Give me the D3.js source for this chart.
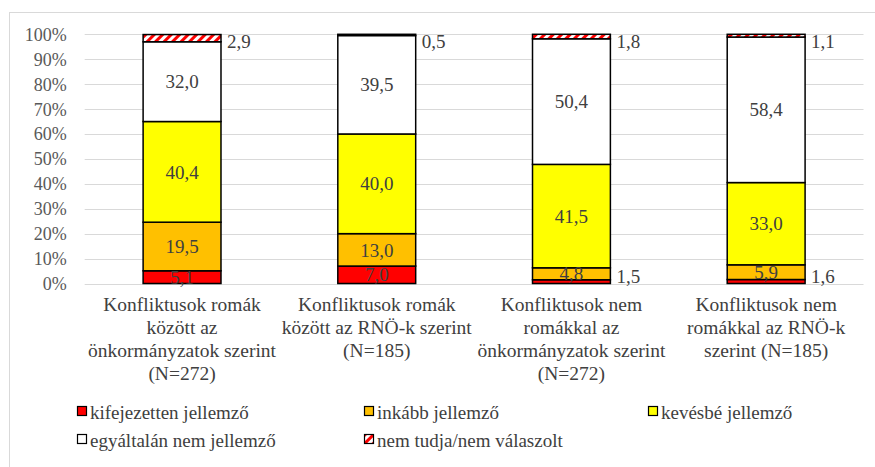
<!DOCTYPE html>
<html><head><meta charset="utf-8">
<script src="https://cdn.jsdelivr.net/npm/d3@7"></script>
</head><body style="margin:0">
<svg id="c" width="875" height="467"></svg>
<script>
const categories = [
  ["Konfliktusok romák","között az","önkormányzatok szerint","(N=272)"],
  ["Konfliktusok romák","között az RNÖ-k szerint","(N=185)"],
  ["Konfliktusok nem","romákkal az","önkormányzatok szerint","(N=272)"],
  ["Konfliktusok nem","romákkal az RNÖ-k","szerint (N=185)"]
];
const seriesNames = ["kifejezetten jellemző","inkább jellemző","kevésbé jellemző","egyáltalán nem jellemző","nem tudja/nem válaszolt"];
const kifejezetten = [5.1, 7.0, 1.5, 1.6];
const inkabb = [19.5, 13.0, 4.8, 5.9];
const kevesbe = [40.4, 40.0, 41.5, 33.0];
const egyaltalan = [32.0, 39.5, 50.4, 58.4];
const nemtudja = [2.9, 0.5, 1.8, 1.1];
const yTicks = [0,10,20,30,40,50,60,70,80,90,100];
const colors = ["#ff0000","#ffc000","#ffff00","#ffffff","url(#hatch)"];

const FONT = "'Liberation Serif'";
const seriesVals = [kifejezetten, inkabb, kevesbe, egyaltalan, nemtudja];
const svg = d3.select("#c");
const defs = svg.append("defs");
const pat = defs.append("pattern").attr("id","hatch").attr("patternUnits","userSpaceOnUse")
  .attr("width",6).attr("height",6).attr("patternTransform","rotate(45)");
pat.append("rect").attr("width",6).attr("height",6).attr("fill","#fff");
pat.append("rect").attr("width",3).attr("height",6).attr("fill","#ff0000");

svg.append("rect").attr("x",9.5).attr("y",12.5).attr("width",900).attr("height",500)
  .attr("fill","none").attr("stroke","#d9d9d9");

const x = d3.scaleBand().domain(d3.range(categories.length)).range([84.7,863.5]).paddingInner(0.6).paddingOuter(0.3);
const y = d3.scaleLinear().domain([0,100]).range([283.5,34.3]);

svg.append("g").selectAll("line").data(yTicks).join("line")
  .attr("x1",84.7).attr("x2",863.5).attr("y1",d=>Math.round(y(d))+0.5).attr("y2",d=>Math.round(y(d))+0.5)
  .attr("stroke","#d9d9d9").attr("stroke-width",1);

const yAxis = svg.append("g").attr("transform","translate(84.7,0)")
  .call(d3.axisLeft(y).tickValues(yTicks).tickFormat(d=>d+"%").tickSize(0).tickPadding(18));
yAxis.select(".domain").remove();
yAxis.attr("font-family",null).attr("font-size",null);
yAxis.selectAll("text").style("font-family",FONT).style("font-size","18px").attr("fill","#595959").attr("dy","0.33em");

const stack = d3.stack().keys(d3.range(5)).value((d,k)=>seriesVals[k][d])(d3.range(categories.length));
const fmt = v => v.toFixed(1).replace(".",",");

stack.forEach((layer,k)=>{
  svg.append("g").selectAll("rect").data(layer).join("rect")
    .attr("x",(d,i)=>x(i)).attr("width",x.bandwidth())
    .attr("y",d=>y(d[1])).attr("height",d=>y(d[0])-y(d[1]))
    .attr("fill",colors[k]).attr("stroke","#000").attr("stroke-width",1.5);
});
stack.forEach((layer,k)=>{
  layer.forEach((d,i)=>{
    const v = seriesVals[k][i];
    let tx, ty, anchor;
    if (v >= 4) { tx = x(i)+x.bandwidth()/2; ty = (y(d[0])+y(d[1]))/2; anchor="middle"; }
    else if (k===4) { tx = x(i)+x.bandwidth()+6; ty = y(d[1])+7; anchor="start"; }
    else { tx = x(i)+x.bandwidth()+6; ty = y(d[0])-7; anchor="start"; }
    svg.append("text").attr("x",tx).attr("y",ty).attr("dy","0.35em").attr("text-anchor",anchor)
      .style("font-family",FONT).style("font-size","19px").attr("fill","#404040").text(fmt(v));
  });
});

categories.forEach((lines,i)=>{
  const t = svg.append("text").attr("x",x(i)+x.bandwidth()/2).attr("y",311)
    .attr("text-anchor","middle").style("font-family",FONT).style("font-size","19.5px").attr("fill","#404040");
  lines.forEach((l,j)=>t.append("tspan").attr("x",x(i)+x.bandwidth()/2).attr("dy",j?23:0).text(l));
});

const legPos = [[77,412],[364,412],[648,412],[77,440],[364,440]];
seriesNames.forEach((n,k)=>{
  const [lx,ly] = legPos[k];
  svg.append("rect").attr("x",lx+0.5).attr("y",ly-5.5).attr("width",9).attr("height",9)
    .attr("fill",colors[k]).attr("stroke","#000").attr("stroke-width",1.2);
  svg.append("text").attr("x",lx+13).attr("y",ly).attr("dy","0.35em")
    .style("font-family",FONT).style("font-size","19px").attr("fill","#404040").text(n);
});
</script></body></html>
